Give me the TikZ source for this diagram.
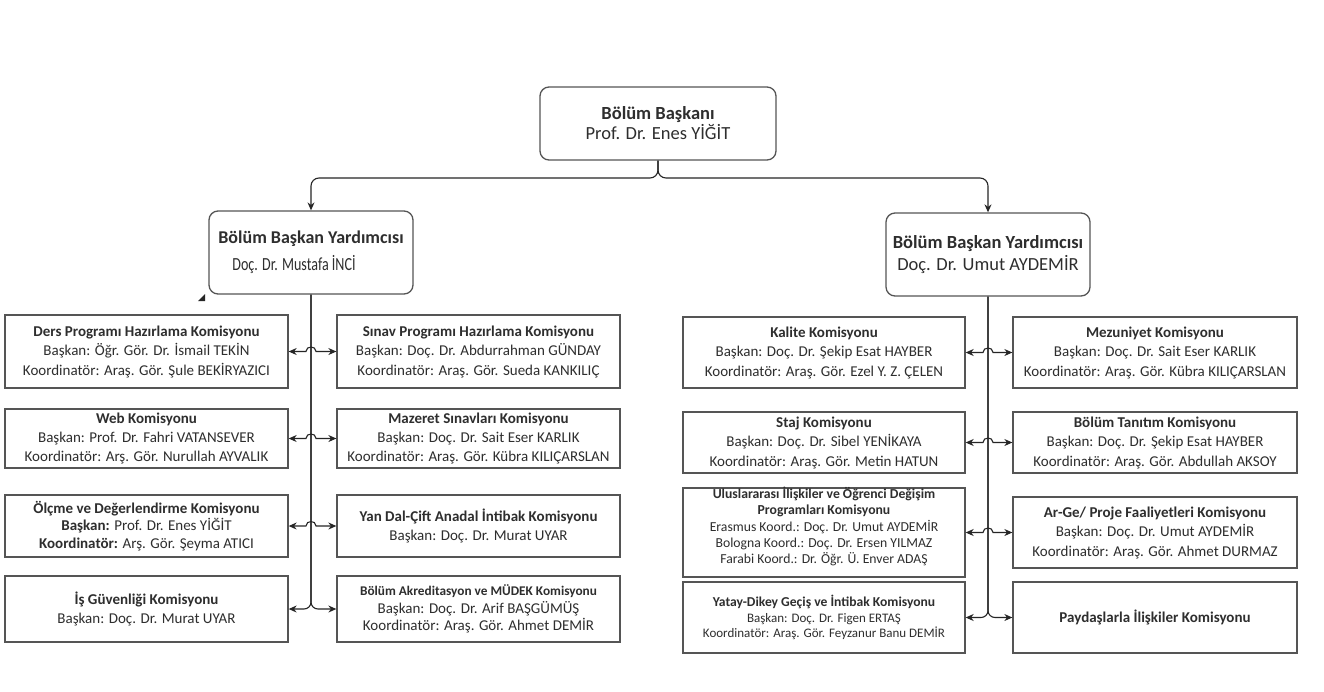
\documentclass[tikz,border=0pt]{standalone}
\usepackage{fontspec}
\setmainfont{Carlito}
\usepackage{graphicx}
\usetikzlibrary{arrows.meta}
\definecolor{txt}{HTML}{2E2E2E}
\definecolor{bdr}{HTML}{555555}
\definecolor{ln}{HTML}{262626}
\tikzset{
  box/.style={draw=bdr, line width=1.3pt, fill=white, align=center, inner sep=0pt, text=txt,
    font=\fontsize{15}{19.5}\selectfont},
  rbox/.style={box, rounded corners=9pt},
  conn/.style={draw=ln, line width=1.1pt},
  tip/.tip={Stealth[length=8pt,width=7pt]},
  arr/.style={conn, tip-tip},
  down/.style={conn, rounded corners=8pt, -tip},
}
\newcommand{\hopline}[4]{\draw[arr] (#1.east) -- ({#3-5},#4) .. controls ({#3-5},{#4-6}) and ({#3+5},{#4-6}) .. ({#3+5},#4) -- (#2.west);}
\begin{document}
\begin{tikzpicture}[x=1pt,y=-1pt]
\fill[white] (0,0) rectangle (1324,691);
\useasboundingbox (0,0) rectangle (1324,691);

% top
\node[rbox, minimum width=236pt, minimum height=73pt, font=\fontsize{18.5}{20}\selectfont] (top) at (658,123.5)
  {\textbf{Bölüm Başkanı}\\Prof. Dr. Enes YİĞİT};
\node[rbox, minimum width=204pt, minimum height=83pt, font=\fontsize{18}{20}\selectfont] (vpL) at (311,252.5)
  {\textbf{Bölüm Başkan Yardımcısı}\\[7pt]\hspace*{-34pt}\scalebox{0.76}[1]{\fontsize{18.5}{20}\selectfont Doç. Dr. Mustafa İNCİ}};
\node[rbox, minimum width=204pt, minimum height=83pt, font=\fontsize{18.5}{22}\selectfont] (vpR) at (988,254.5)
  {\textbf{Bölüm Başkan Yardımcısı}\\Doç. Dr. Umut AYDEMİR};
\fill[ln] (198,301) -- (205,301) -- (205,294) -- cycle;

% left group, column 1
\node[box, minimum width=283pt, minimum height=73pt] (ders) at (146.5,351.5)
  {\textbf{Ders Programı Hazırlama Komisyonu}\\Başkan: Öğr. Gör. Dr. İsmail TEKİN\\Koordinatör: Araş. Gör. Şule BEKİRYAZICI};
\node[box, minimum width=283pt, minimum height=59pt, font=\fontsize{15}{19}\selectfont] (web) at (146.5,438.5)
  {\textbf{Web Komisyonu}\\Başkan: Prof. Dr. Fahri VATANSEVER\\Koordinatör: Arş. Gör. Nurullah AYVALIK};
\node[box, minimum width=283pt, minimum height=62pt, font=\fontsize{15}{17.5}\selectfont] (olc) at (146.5,526)
  {\textbf{Ölçme ve Değerlendirme Komisyonu}\\\textbf{Başkan:} Prof. Dr. Enes YİĞİT\\\textbf{Koordinatör:} Arş. Gör. Şeyma ATICI};
\node[box, minimum width=283pt, minimum height=66pt] (isg) at (146.5,609)
  {\textbf{İş Güvenliği Komisyonu}\\Başkan: Doç. Dr. Murat UYAR};

% left group, column 2
\node[box, minimum width=283pt, minimum height=73pt] (sinav) at (478.5,351.5)
  {\textbf{Sınav Programı Hazırlama Komisyonu}\\Başkan: Doç. Dr. Abdurrahman GÜNDAY\\Koordinatör: Araş. Gör. Sueda KANKILIÇ};
\node[box, minimum width=283pt, minimum height=59pt, font=\fontsize{15}{19}\selectfont] (maz) at (478.5,438.5)
  {\textbf{Mazeret Sınavları Komisyonu}\\Başkan: Doç. Dr. Sait Eser KARLIK\\Koordinatör: Araş. Gör. Kübra KILIÇARSLAN};
\node[box, minimum width=283pt, minimum height=62pt] (yandal) at (478.5,526)
  {\textbf{Yan Dal-Çift Anadal İntibak Komisyonu}\\Başkan: Doç. Dr. Murat UYAR};
\node[box, minimum width=283pt, minimum height=66pt, font=\fontsize{15}{17.5}\selectfont] (akr) at (478.5,609)
  {{\fontsize{13.3}{17.5}\selectfont\textbf{Bölüm Akreditasyon ve MÜDEK Komisyonu}}\\Başkan: Doç. Dr. Arif BAŞGÜMÜŞ\\Koordinatör: Araş. Gör. Ahmet DEMİR};

% right group, column 3
\node[box, minimum width=282pt, minimum height=71pt] (kal) at (824,352.5)
  {\textbf{Kalite Komisyonu}\\Başkan: Doç. Dr. Şekip Esat HAYBER\\Koordinatör: Araş. Gör. Ezel Y. Z. ÇELEN};
\node[box, minimum width=282pt, minimum height=61pt] (staj) at (824,442.5)
  {\textbf{Staj Komisyonu}\\Başkan: Doç. Dr. Sibel YENİKAYA\\Koordinatör: Araş. Gör. Metin HATUN};
\node[box, minimum width=282pt, minimum height=89pt] (ulus) at (824,532.5) {};
\node[align=center, inner sep=0pt, text=txt, font=\fontsize{13.7}{16.2}\selectfont] (ulust) at ([yshift=6pt]ulus.center)
  {\textbf{Uluslararası İlişkiler ve Öğrenci Değişim}\\\textbf{Programları Komisyonu}\\Erasmus Koord.: Doç. Dr. Umut AYDEMİR\\Bologna Koord.: Doç. Dr. Ersen YILMAZ\\Farabi Koord.: Dr. Öğr. Ü. Enver ADAŞ};
\node[box, minimum width=282pt, minimum height=71pt, font=\fontsize{13}{15.5}\selectfont] (yatay) at (824,617.5)
  {{\fontsize{13.6}{15.5}\selectfont\textbf{Yatay-Dikey Geçiş ve İntibak Komisyonu}}\\Başkan: Doç. Dr. Figen ERTAŞ\\Koordinatör: Araş. Gör. Feyzanur Banu DEMİR};

% right group, column 4
\node[box, minimum width=284pt, minimum height=71pt] (mez) at (1155,352.5)
  {\textbf{Mezuniyet Komisyonu}\\Başkan: Doç. Dr. Sait Eser KARLIK\\Koordinatör: Araş. Gör. Kübra KILIÇARSLAN};
\node[box, minimum width=284pt, minimum height=61pt] (tan) at (1155,442.5)
  {\textbf{Bölüm Tanıtım Komisyonu}\\Başkan: Doç. Dr. Şekip Esat HAYBER\\Koordinatör: Araş. Gör. Abdullah AKSOY};
\node[box, minimum width=284pt, minimum height=71pt] (arge) at (1155,532.5)
  {\textbf{Ar-Ge/ Proje Faaliyetleri Komisyonu}\\Başkan: Doç. Dr. Umut AYDEMİR\\Koordinatör: Araş. Gör. Ahmet DURMAZ};
\node[box, minimum width=284pt, minimum height=71pt] (pay) at (1155,617.5)
  {\textbf{Paydaşlarla İlişkiler Komisyonu}};

% connectors from top
\draw[down] (top.south) -- (658,178) -| (vpL.north);
\draw[down] (top.south) -- (658,178) -| (vpR.north);

% left trunk
\draw[conn, rounded corners=7pt, -tip] (vpL.south) |- (isg.east);
\draw[conn, rounded corners=7pt, -tip] (vpL.south) |- (akr.west);
\hopline{ders}{sinav}{311}{351.5}
\hopline{web}{maz}{311}{438.5}
\hopline{olc}{yandal}{311}{526}

% right trunk
\draw[conn, rounded corners=7pt, -tip] (vpR.south) |- (yatay.east);
\draw[conn, rounded corners=7pt, -tip] (vpR.south) |- (pay.west);
\hopline{kal}{mez}{988}{352.5}
\hopline{staj}{tan}{988}{442.5}
\hopline{ulus}{arge}{988}{532.5}
\end{tikzpicture}
\end{document}
